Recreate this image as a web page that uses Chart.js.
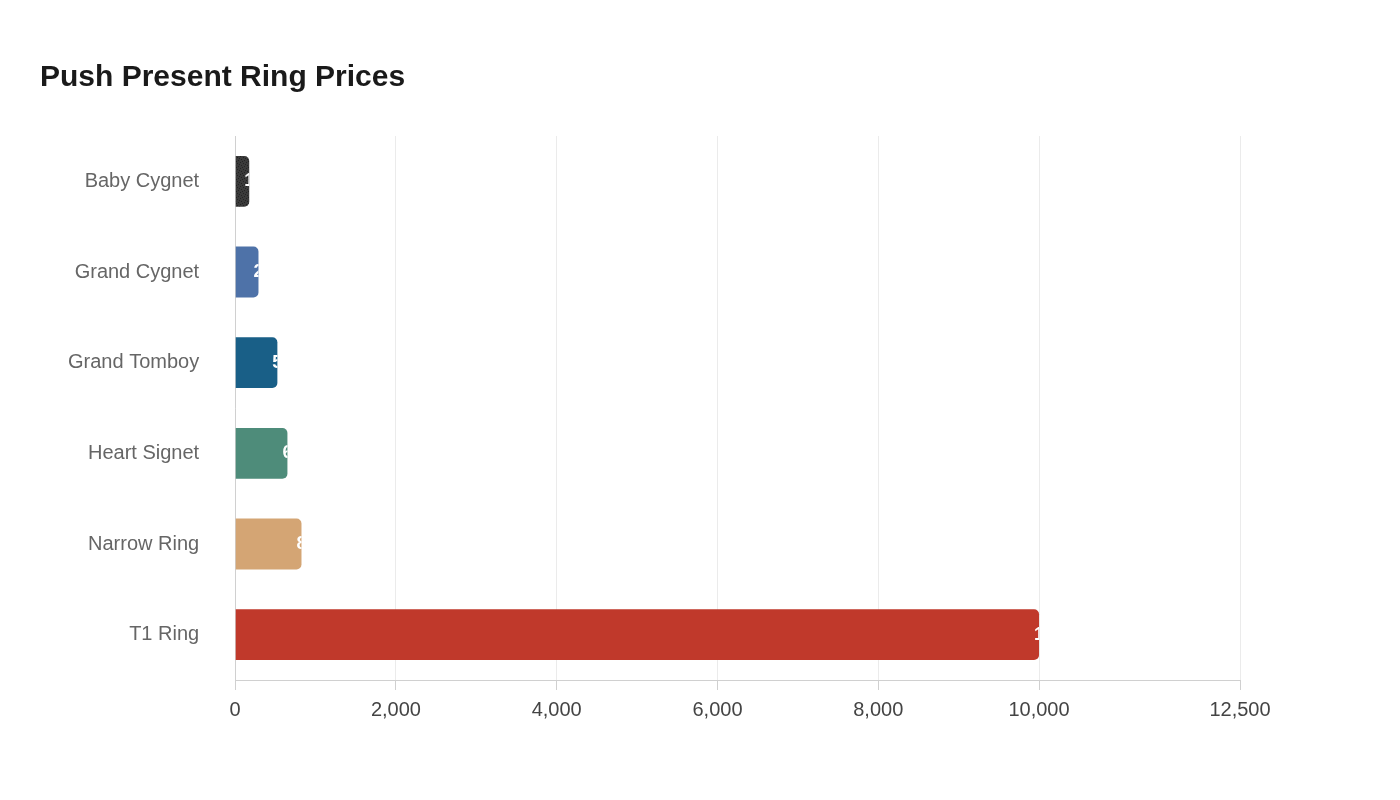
<!DOCTYPE html>
<html>
<head>
<meta charset="utf-8">
<script src="https://cdn.jsdelivr.net/npm/chart.js@4"></script>
<style>
  body { margin: 0; background: #fff; }
  #wrap { width: 1400px; height: 800px; position: relative; }
</style>
</head>
<body>
<div id="wrap"><canvas id="chart" width="1400" height="800"></canvas></div>
<script>
const rings = ['Baby Cygnet', 'Grand Cygnet', 'Grand Tomboy', 'Heart Signet', 'Narrow Ring', 'T1 Ring'];
const prices = [175, 290, 525, 650, 825, 10000];
const xTicks = [0, 2000, 4000, 6000, 8000, 10000, 12500];

// noisy dark pattern for the first bar
function darkPattern() {
  const c = document.createElement('canvas');
  c.width = 6; c.height = 6;
  const g = c.getContext('2d');
  g.fillStyle = '#3a3a3a';
  g.fillRect(0, 0, 6, 6);
  g.fillStyle = '#222';
  [[0,0],[3,1],[1,3],[4,4],[2,5],[5,2]].forEach(p => g.fillRect(p[0], p[1], 1, 1));
  return g.createPattern(c, 'repeat');
}

const colors = [darkPattern(), '#4e72a8', '#195f87', '#4e8c7a', '#d4a574', '#c0392b'];

// white value labels, starting near the bar end and clipped to the bar
const barLabels = {
  id: 'barLabels',
  afterDatasetsDraw(chart) {
    const ctx = chart.ctx;
    const meta = chart.getDatasetMeta(0);
    meta.data.forEach((bar, i) => {
      const left = bar.base, top = bar.y - bar.height / 2;
      ctx.save();
      ctx.beginPath();
      ctx.rect(left, top, bar.x - left, bar.height);
      ctx.clip();
      ctx.fillStyle = '#fff';
      ctx.font = 'bold 18px "Liberation Sans", Arial, sans-serif';
      ctx.textAlign = 'left';
      ctx.textBaseline = 'middle';
      ctx.fillText(prices[i].toLocaleString('en-US'), bar.x - 5, bar.y);
      ctx.restore();
    });
  }
};

new Chart(document.getElementById('chart'), {
  type: 'bar',
  data: {
    labels: rings,
    datasets: [{
      data: prices,
      backgroundColor: colors,
      borderRadius: 5,
      borderSkipped: 'start',
      barPercentage: 0.56,
      categoryPercentage: 1,
    }],
  },
  options: {
    indexAxis: 'y',
    responsive: false,
    devicePixelRatio: 1,
    animation: false,
    layout: { padding: { left: 40, right: 160, top: 60, bottom: 70 } },
    plugins: {
      legend: { display: false },
      tooltip: { enabled: false },
      title: {
        display: true,
        text: 'Push Present Ring Prices',
        align: 'start',
        color: '#1a1a1a',
        font: { family: '"Liberation Sans", Arial, sans-serif', size: 30, weight: 'bold' },
        padding: { top: 0, bottom: 40 },
      },
    },
    scales: {
      x: {
        min: 0,
        max: 12500,
        afterBuildTicks(axis) { axis.ticks = xTicks.map(v => ({ value: v })); },
        grid: { color: '#ebebeb', tickColor: '#d0d0d0', tickLength: 10, drawOnChartArea: true },
        border: { color: '#d0d0d0' },
        ticks: {
          color: '#444',
          padding: 8,
          font: { family: '"Liberation Sans", Arial, sans-serif', size: 20 },
          callback: v => v.toLocaleString('en-US'),
        },
      },
      y: {
        grid: { display: false },
        border: { color: '#d0d0d0' },
        ticks: {
          color: '#666',
          padding: 28,
          font: { family: '"Liberation Sans", Arial, sans-serif', size: 20 },
        },
      },
    },
  },
  plugins: [barLabels],
});
</script>
</body>
</html>
